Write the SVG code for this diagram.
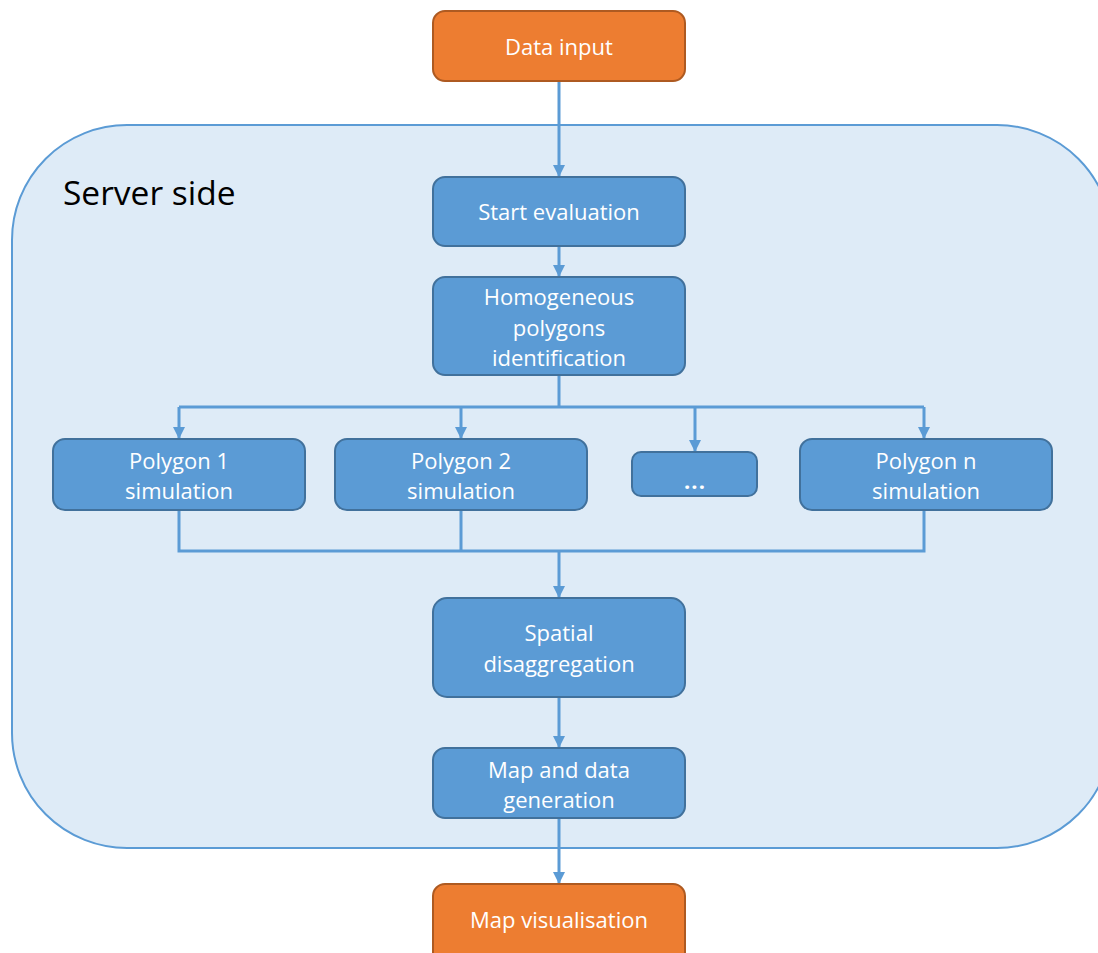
<svg xmlns="http://www.w3.org/2000/svg" width="1098" height="953" viewBox="0 0 1098 953">
  <style>
    .box { fill: #5B9BD5; stroke: #41719C; stroke-width: 2; }
    .io { fill: #ED7D31; stroke: #AE5A21; stroke-width: 2; }
    .lbl { font-family: "Open Sans", "Noto Sans", sans-serif; font-size: 22px; fill: #FFFFFF; text-anchor: middle; }
    .wire { fill: none; stroke: #5B9BD5; stroke-width: 3; }
  </style>
  <defs>
    <marker id="arrow" viewBox="0 0 12 12" refX="11" refY="6" markerWidth="12" markerHeight="12" markerUnits="userSpaceOnUse" orient="auto">
      <path d="M0,0 L12,6 L0,12 Z" fill="#5B9BD5"/>
    </marker>
  </defs>

  <rect width="1098" height="953" fill="#FFFFFF"/>

  <!-- server container -->
  <g id="server">
    <rect x="12" y="125" width="1100" height="723" rx="115" ry="115" fill="#DEEBF7" stroke="#5B9BD5" stroke-width="2"/>
    <text x="63" y="205" font-family="'Open Sans', 'Noto Sans', sans-serif" font-size="33.5" fill="#000000">Server side</text>
  </g>

  <!-- connectors -->
  <g id="connectors">
    <path class="wire" d="M559,81 V176" marker-end="url(#arrow)"/>
    <path class="wire" d="M559,246 V276" marker-end="url(#arrow)"/>
    <path class="wire" d="M559,375 V407 M179,407 H924"/>
    <path class="wire" d="M179,407 V438" marker-end="url(#arrow)"/>
    <path class="wire" d="M461,407 V438" marker-end="url(#arrow)"/>
    <path class="wire" d="M695,407 V451" marker-end="url(#arrow)"/>
    <path class="wire" d="M924,407 V438" marker-end="url(#arrow)"/>
    <path class="wire" d="M179,510 V551 H924 V510 M461,510 V551"/>
    <path class="wire" d="M559,551 V597" marker-end="url(#arrow)"/>
    <path class="wire" d="M559,697 V747" marker-end="url(#arrow)"/>
    <path class="wire" d="M559,818 V883" marker-end="url(#arrow)"/>
  </g>

  <g id="data-input">
    <rect class="io" x="433" y="11" width="252" height="70" rx="12"/>
    <text class="lbl" x="559" y="55">Data input</text>
  </g>

  <g id="start-evaluation">
    <rect class="box" x="433" y="177" width="252" height="69" rx="12"/>
    <text class="lbl" x="559" y="220">Start evaluation</text>
  </g>

  <g id="homogeneous-polygons">
    <rect class="box" x="433" y="277" width="252" height="98" rx="12"/>
    <text class="lbl" x="559" y="305">Homogeneous</text>
    <text class="lbl" x="559" y="336">polygons</text>
    <text class="lbl" x="559" y="366">identification</text>
  </g>

  <g id="polygon-1">
    <rect class="box" x="53" y="439" width="252" height="71" rx="12"/>
    <text class="lbl" x="179" y="469">Polygon 1</text>
    <text class="lbl" x="179" y="499">simulation</text>
  </g>

  <g id="polygon-2">
    <rect class="box" x="335" y="439" width="252" height="71" rx="12"/>
    <text class="lbl" x="461" y="469">Polygon 2</text>
    <text class="lbl" x="461" y="499">simulation</text>
  </g>

  <g id="polygon-more">
    <rect class="box" x="632" y="452" width="125" height="44" rx="9"/>
    <text class="lbl" x="695" y="489" font-size="26" font-weight="bold" letter-spacing="1">...</text>
  </g>

  <g id="polygon-n">
    <rect class="box" x="800" y="439" width="252" height="71" rx="12"/>
    <text class="lbl" x="926" y="469">Polygon n</text>
    <text class="lbl" x="926" y="499">simulation</text>
  </g>

  <g id="spatial-disaggregation">
    <rect class="box" x="433" y="598" width="252" height="99" rx="14"/>
    <text class="lbl" x="559" y="641">Spatial</text>
    <text class="lbl" x="559" y="672">disaggregation</text>
  </g>

  <g id="map-data-generation">
    <rect class="box" x="433" y="748" width="252" height="70" rx="12"/>
    <text class="lbl" x="559" y="778">Map and data</text>
    <text class="lbl" x="559" y="808">generation</text>
  </g>

  <g id="map-visualisation">
    <rect class="io" x="433" y="884" width="252" height="80" rx="12"/>
    <text class="lbl" x="559" y="928">Map visualisation</text>
  </g>
</svg>
